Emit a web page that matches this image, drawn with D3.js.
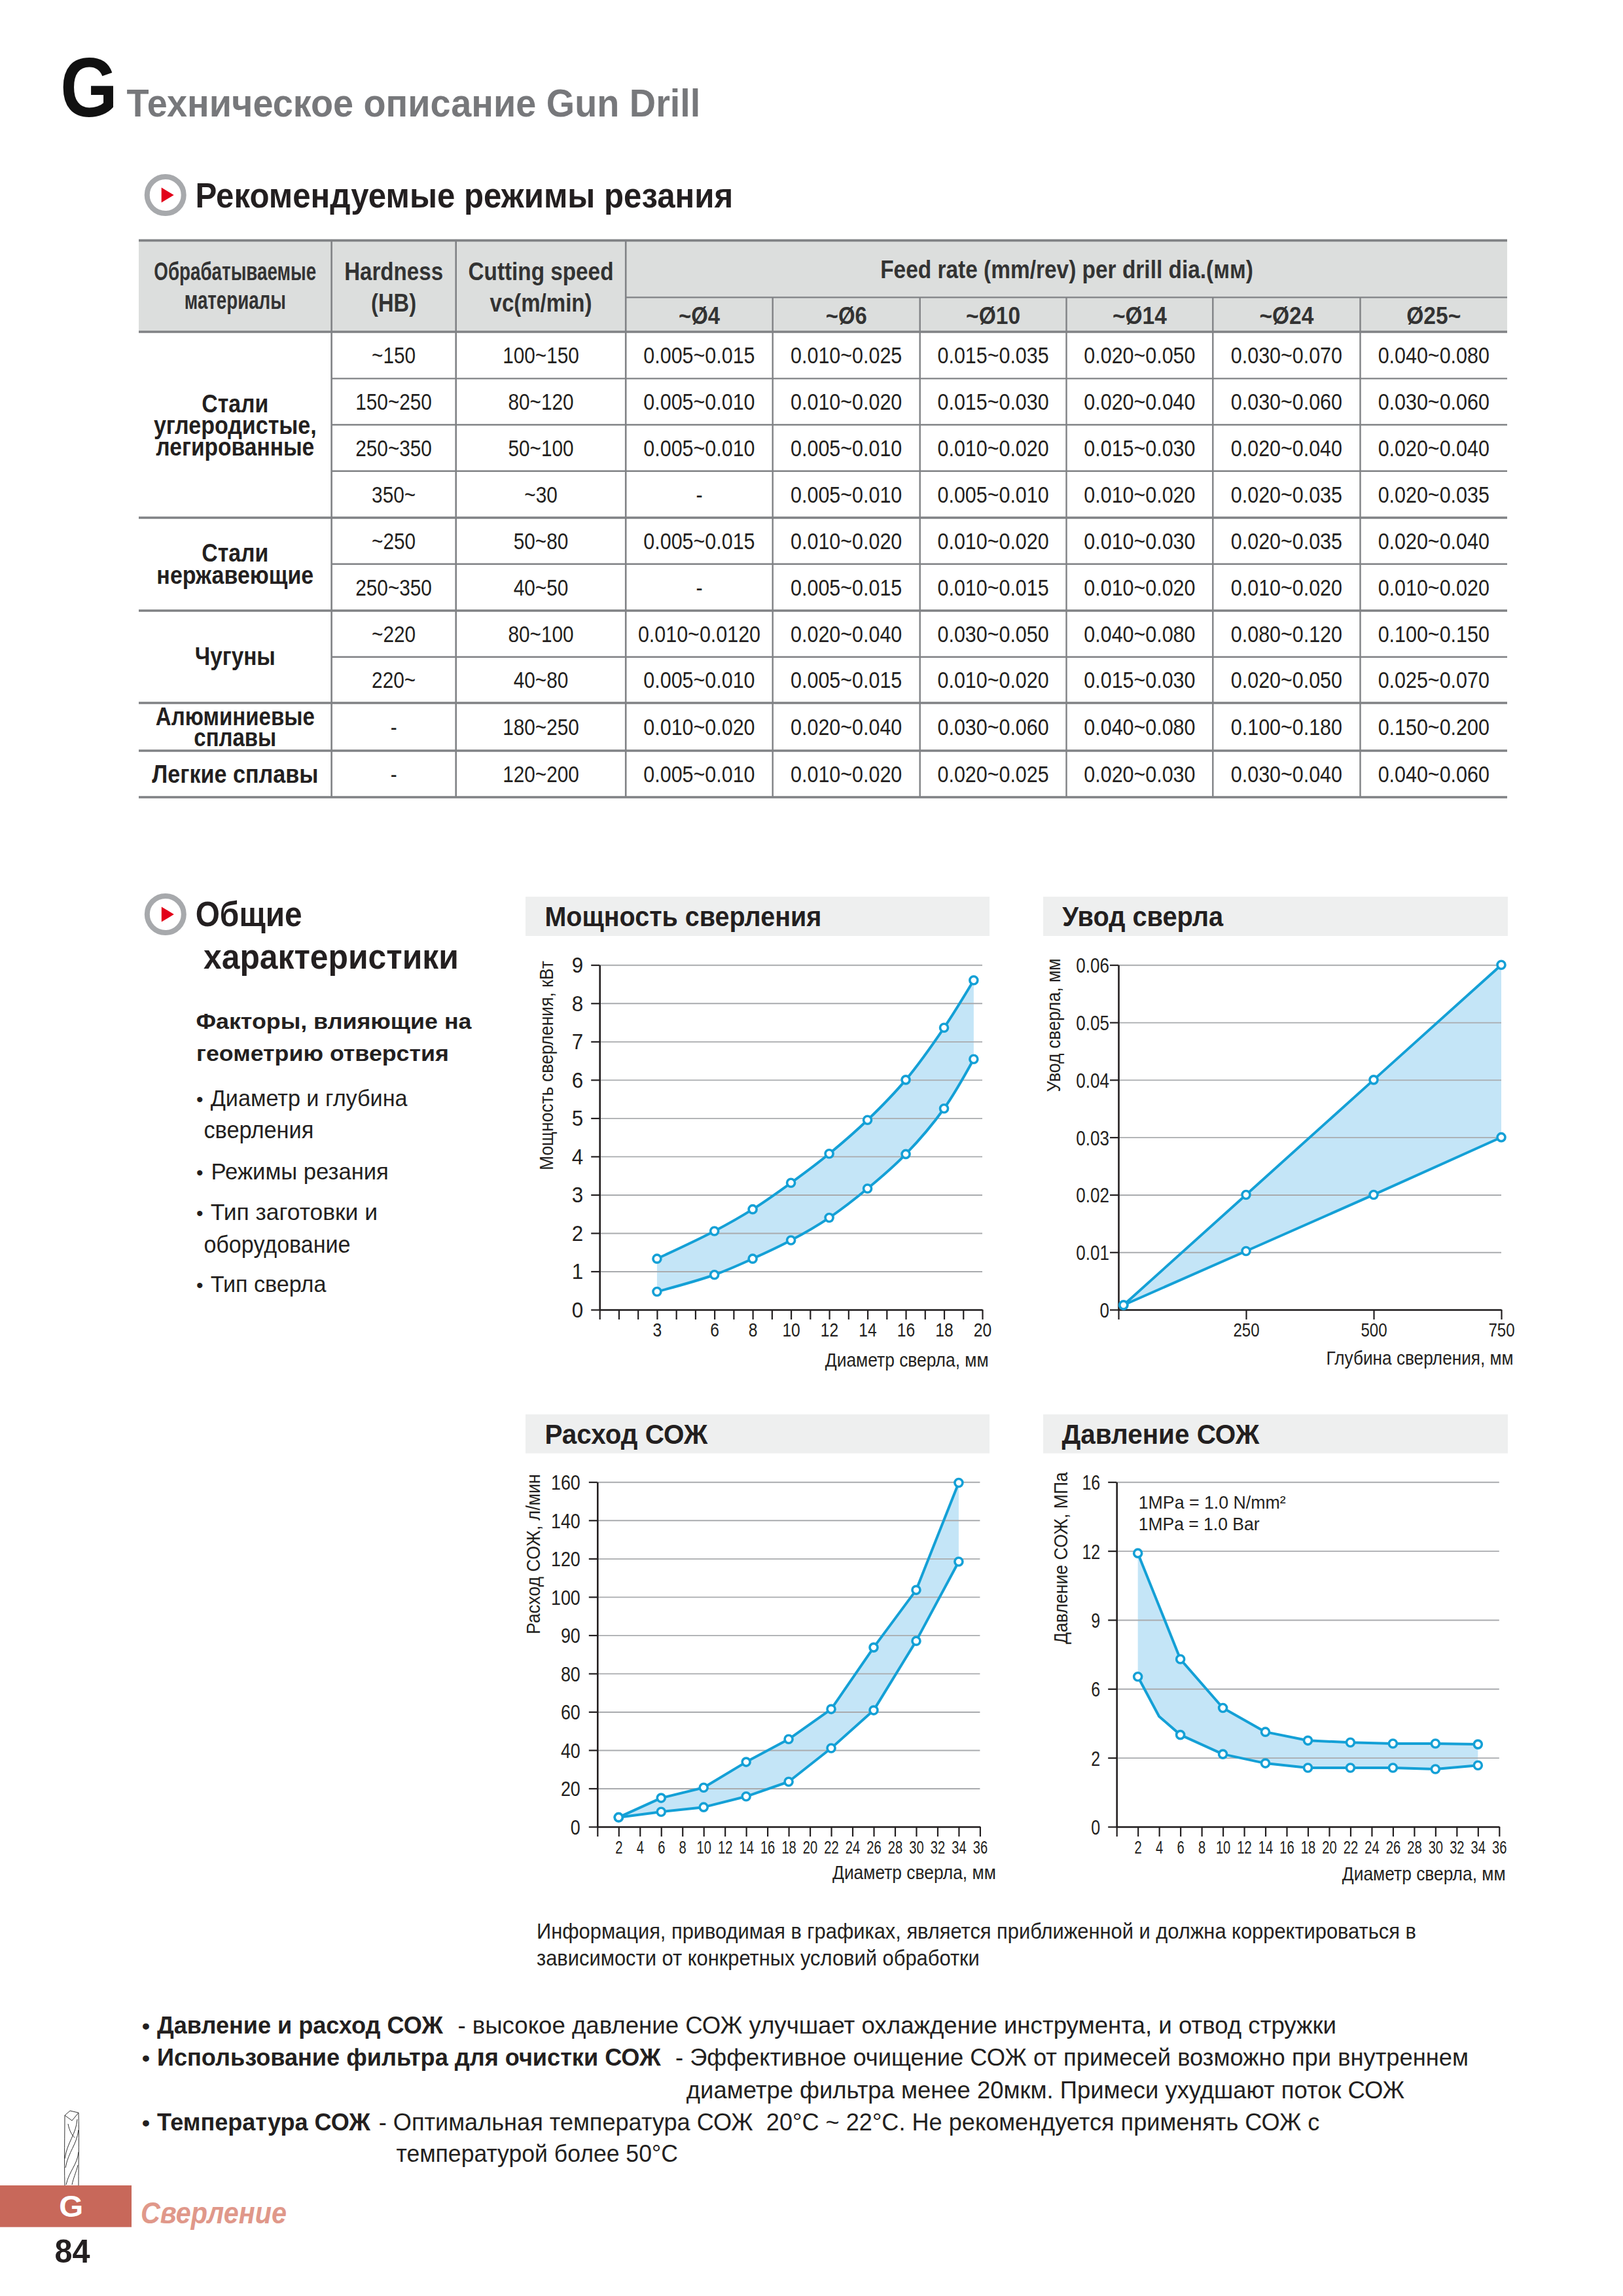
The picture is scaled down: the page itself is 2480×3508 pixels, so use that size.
<!DOCTYPE html>
<html lang="ru"><head><meta charset="utf-8">
<script src="https://cdn.jsdelivr.net/npm/d3@7/dist/d3.min.js"></script>
<style>html,body{margin:0;padding:0;background:#fff}svg{display:block}text{font-family:"Liberation Sans",Arial,sans-serif}</style>
</head><body><svg id="page" width="2480" height="3508"></svg>
<script>
// ---------- DATA ----------
const powerX      = [3, 6, 8, 10, 12, 14, 16, 18, 19.55];
const powerUpper  = [1.33, 2.05, 2.62, 3.31, 4.07, 4.95, 6.0, 7.36, 8.6];
const powerLower  = [0.47, 0.91, 1.33, 1.81, 2.4, 3.16, 4.06, 5.25, 6.54];
const powerYTicks = [0, 1, 2, 3, 4, 5, 6, 7, 8, 9];
const powerXTicks = [3, 6, 8, 10, 12, 14, 16, 18, 20];

const runoutX      = [10, 250, 500, 750];
const runoutUpper  = [0.0008, 0.02, 0.04, 0.06];
const runoutLower  = [0.0008, 0.0102, 0.02, 0.03];
const runoutYTicks = [0, 0.01, 0.02, 0.03, 0.04, 0.05, 0.06];
const runoutXTicks = [0, 250, 500, 750];

const flowX      = [2, 6, 10, 14, 18, 22, 26, 30, 34];
const flowUpper  = [4.9, 15, 20.4, 33.8, 45.7, 61.4, 86.8, 103.6, 159.6];
const flowLower  = [4.9, 7.8, 10.2, 15.8, 23.5, 41, 60.8, 88.5, 118.4];
const flowYTicks = [0, 20, 40, 60, 80, 90, 100, 120, 140, 160];

const pressureX      = [2, 4, 6, 10, 14, 18, 22, 26, 30, 34];
const pressureUpper  = [11.9, 9.6, 7.29, 4.89, 3.5, 3.0, 2.89, 2.82, 2.82, 2.78];
const pressureLower  = [6.53, 4.4, 3.33, 2.21, 1.84, 1.71, 1.71, 1.71, 1.67, 1.78];
const pressureUnmarkedX = [4];
const pressureYTicks = [0, 2, 6, 9, 12, 16];
const diameterTicks  = [2,4,6,8,10,12,14,16,18,20,22,24,26,28,30,32,34,36];

const feedDiameters = ["~Ø4","~Ø6","~Ø10","~Ø14","~Ø24","Ø25~"];
const hardnessVals  = ["~150","150~250","250~350","350~","~250","250~350","~220","220~","-","-"];
const speedVals     = ["100~150","80~120","50~100","~30","50~80","40~50","80~100","40~80","180~250","120~200"];
const feedRows = [
 ["0.005~0.015","0.010~0.025","0.015~0.035","0.020~0.050","0.030~0.070","0.040~0.080"],
 ["0.005~0.010","0.010~0.020","0.015~0.030","0.020~0.040","0.030~0.060","0.030~0.060"],
 ["0.005~0.010","0.005~0.010","0.010~0.020","0.015~0.030","0.020~0.040","0.020~0.040"],
 ["-","0.005~0.010","0.005~0.010","0.010~0.020","0.020~0.035","0.020~0.035"],
 ["0.005~0.015","0.010~0.020","0.010~0.020","0.010~0.030","0.020~0.035","0.020~0.040"],
 ["-","0.005~0.015","0.010~0.015","0.010~0.020","0.010~0.020","0.010~0.020"],
 ["0.010~0.0120","0.020~0.040","0.030~0.050","0.040~0.080","0.080~0.120","0.100~0.150"],
 ["0.005~0.010","0.005~0.015","0.010~0.020","0.015~0.030","0.020~0.050","0.025~0.070"],
 ["0.010~0.020","0.020~0.040","0.030~0.060","0.040~0.080","0.100~0.180","0.150~0.200"],
 ["0.005~0.010","0.010~0.020","0.020~0.025","0.020~0.030","0.030~0.040","0.040~0.060"]
];

// ---------- HELPERS ----------
const svg = d3.select("#page");
const INK = "#231f20", BLUE = "#14a0d6", AREA = "#c4e5f7", GRID = "#a9abae", RULE = "#808285";

function T(str, x, y, o = {}) {
  const el = svg.append("text").text(str)
    .attr("font-size", o.size || 32)
    .attr("font-weight", o.bold ? 700 : 400)
    .attr("font-style", o.italic ? "italic" : "normal")
    .attr("text-anchor", o.anchor || "start")
    .attr("fill", o.fill || INK);
  let sx = o.sx || 1;
  if (o.w) sx = o.w / el.node().getComputedTextLength();
  el.attr("transform", `translate(${x},${y}) rotate(${o.rot || 0}) scale(${sx},1)`);
  return el;
}
function line(x1, y1, x2, y2, w, c) {
  svg.append("line").attr("x1", x1).attr("y1", y1).attr("x2", x2).attr("y2", y2)
    .attr("stroke", c || RULE).attr("stroke-width", w);
}
function sectionIcon(cx, cy) {
  svg.append("circle").attr("cx", cx).attr("cy", cy).attr("r", 28).attr("fill", "#fff")
    .attr("stroke", "#a7a9ac").attr("stroke-width", 8);
  svg.append("path").attr("d", `M${cx-6},${cy-11.5}L${cx+13},${cy}L${cx-6},${cy+11.5}Z`).attr("fill", "#e2001a");
}

// ---------- PAGE HEADER ----------
T("G", 92, 178, {size:128, bold:true, w:88, fill:"#111"});
T("Техническое описание Gun Drill", 193.5, 177.5, {size:60, bold:true, w:877, fill:"#77787b"});
sectionIcon(252.7, 298);
T("Рекомендуемые режимы резания", 298.5, 317, {size:53, bold:true, w:822});

// ---------- TABLE ----------
const colX = [212, 506.6, 696.7, 956.2, 1180.7, 1405.7, 1629.5, 1853.3, 2078.5, 2303];
const rowY = [507, 578.4, 649, 719.8, 791, 861.8, 933, 1003.8, 1074, 1147, 1218];
const majorRows = [0, 4, 6, 8, 9, 10];
svg.append("rect").attr("x", colX[0]).attr("y", 367.4).attr("width", colX[9]-colX[0]).attr("height", rowY[0]-367.4).attr("fill", "#dcdedd");
rowY.forEach((y, i) => majorRows.includes(i) ? line(colX[0], y, colX[9], y, 3.6) : line(colX[1], y, colX[9], y, 2.4));
line(colX[0], 367.4, colX[9], 367.4, 3.6);
line(colX[3], 454.4, colX[9], 454.4, 2.4);
[1,2,3].forEach(i => line(colX[i], 367.4, colX[i], 1218, 2.6));
[4,5,6,7,8].forEach(i => line(colX[i], 454.4, colX[i], 1218, 2.4));

const c1 = 359.3, c2 = 601.6, c3 = 826.5;
T("Обрабатываемые", c1, 428, {size:38, bold:true, w:248, anchor:"middle", fill:"#333"});
T("материалы", c1, 472, {size:38, bold:true, w:155, anchor:"middle", fill:"#333"});
T("Hardness", c2, 428, {size:39, bold:true, w:151, anchor:"middle", fill:"#333"});
T("(HB)", c2, 476, {size:39, bold:true, w:69, anchor:"middle", fill:"#333"});
T("Cutting speed", c3, 428, {size:39, bold:true, w:222, anchor:"middle", fill:"#333"});
T("vc(m/min)", c3, 476, {size:39, bold:true, w:156, anchor:"middle", fill:"#333"});
T("Feed rate (mm/rev) per drill dia.(мм)", 1630, 424.6, {size:38, bold:true, w:570, anchor:"middle", fill:"#333"});
feedDiameters.forEach((d, i) => T(d, (colX[3+i]+colX[4+i])/2, 495, {size:37, bold:true, w:i<2?63:83, anchor:"middle", fill:"#333"}));

[["Стали",629.5,102],["углеродистые,",663,249],["легированные",695.7,242],["Стали",858.4,102],["нержавеющие",892,240],
 ["Чугуны",1016,123],["Алюминиевые",1107.6,243],["сплавы",1140,126],["Легкие сплавы",1195.7,254]]
 .forEach(([s,y,w]) => T(s, c1, y, {size:38, bold:true, w, anchor:"middle"}));

feedRows.forEach((row, r) => {
  const base = (rowY[r]+rowY[r+1])/2 + 12.5;
  T(hardnessVals[r], c2, base, {size:35, sx:.85, anchor:"middle"});
  T(speedVals[r], c3, base, {size:35, sx:.85, anchor:"middle"});
  row.forEach((v, c) => T(v, (colX[3+c]+colX[4+c])/2, base, {size:35, sx:.87, anchor:"middle"}));
});

// ---------- LEFT COLUMN ----------
sectionIcon(252.8, 1397);
T("Общие", 298.7, 1415, {size:54, bold:true, w:163});
T("характеристики", 311, 1479.7, {size:54, bold:true, w:390});
T("Факторы, влияющие на", 299.5, 1571.5, {size:34, bold:true, w:421});
T("геометрию отверстия", 300, 1621, {size:34, bold:true, w:386});
[["Диаметр и глубина",321.7,1690,301,true],["сверления",311.4,1739,168,false],["Режимы резания",322.5,1802,271.5,true],
 ["Тип заготовки и",321.7,1863.6,255.3,true],["оборудование",311.4,1913.7,224.2,false],["Тип сверла",321.7,1974,176.8,true]]
 .forEach(([s,x,y,w,b]) => { if (b) T("•", 300, y, {size:30}); T(s, x, y, {size:36, w}); });

// ---------- CHARTS ----------
function chart(cfg) {
  const {left, right, top, bottom, xDomain, yDomain, xs, upper, lower} = cfg;
  svg.append("rect").attr("x", cfg.hx0).attr("y", cfg.hy0).attr("width", cfg.hx1-cfg.hx0).attr("height", cfg.hy1-cfg.hy0).attr("fill", "#eeefef");
  T(cfg.title, cfg.titleX, cfg.titleY, {size:42, bold:true, w:cfg.titleW});

  const x = d3.scaleLinear().domain(xDomain).range([left, right]);
  const yRange = yDomain.map((_, i) => bottom + (top-bottom)*i/(yDomain.length-1));
  const y = d3.scaleLinear().domain(yDomain).range(yRange);
  const curve = cfg.curve || d3.curveLinear;
  const rows = xs.map((v, i) => ({x:v, hi:upper[i], lo:lower[i]}));

  svg.append("path").datum(rows).attr("fill", AREA)
    .attr("d", d3.area().x(d => x(d.x)).y0(d => y(d.lo)).y1(d => y(d.hi)).curve(curve));

  const grid = svg.append("g").attr("transform", `translate(${left},0)`)
    .call(d3.axisRight(y).tickValues(yDomain).tickSize(right-left).tickFormat(""));
  grid.select(".domain").remove();
  grid.selectAll("line").attr("stroke", GRID).attr("stroke-width", 1.9);

  const ya = svg.append("g").attr("transform", `translate(${left},0)`)
    .call(d3.axisLeft(y).tickValues(cfg.yTicks).tickSize(13).tickSizeOuter(0).tickFormat(cfg.yFmt || (d => d)));
  ya.select(".domain").attr("stroke", INK).attr("stroke-width", 2.6);
  ya.selectAll("line").attr("stroke", INK).attr("stroke-width", 2.2);
  ya.selectAll("text").attr("font-size", cfg.ySize || 32).attr("font-family", "Liberation Sans").attr("fill", INK)
    .attr("dy", null).attr("y", 11.5).attr("x", -cfg.yPad/cfg.ySx).attr("transform", `scale(${cfg.ySx},1)`);

  const xa = svg.append("g").attr("transform", `translate(0,${bottom})`)
    .call(d3.axisBottom(x).tickValues(cfg.xTickMarks).tickSize(15).tickSizeOuter(0)
      .tickFormat(d => cfg.xTicks.includes(d) ? d : ""));
  xa.select(".domain").attr("stroke", INK).attr("stroke-width", 2.6);
  xa.selectAll("line").attr("stroke", INK).attr("stroke-width", 2.2);
  xa.selectAll("text").attr("font-size", cfg.xSize || 29).attr("font-family", "Liberation Sans").attr("fill", INK)
    .attr("dy", null).attr("y", cfg.xLabelDy).attr("transform", `scale(${cfg.xSx},1)`);

  ["hi","lo"].forEach(k => {
    svg.append("path").datum(rows).attr("fill", "none").attr("stroke", BLUE).attr("stroke-width", 4).attr("stroke-linejoin", "round")
      .attr("d", d3.line().x(d => x(d.x)).y(d => y(d[k])).curve(curve));
    svg.append("g").selectAll("circle").data(rows.filter(d => !(cfg.unmarked || []).includes(d.x))).join("circle")
      .attr("cx", d => x(d.x)).attr("cy", d => y(d[k])).attr("r", 6)
      .attr("fill", "#fff").attr("stroke", BLUE).attr("stroke-width", 3.6);
  });

  T(cfg.yLabel, cfg.yLabelX, cfg.yLabelY, {size:30, w:cfg.yLabelW, rot:-90});
  T(cfg.xLabel, cfg.xLabelX, cfg.xLabelBase, {size:29, w:cfg.xLabelW});
}

chart({title:"Мощность сверления", titleX:832.4, titleY:1414.6, titleW:423, hx0:803, hx1:1512, hy0:1370, hy1:1430,
  left:916.2, right:1501, top:1474.3, bottom:2001, xDomain:[0,20], yDomain:powerYTicks, xs:powerX, upper:powerUpper, lower:powerLower,
  curve:d3.curveCatmullRom, yTicks:powerYTicks, yPad:25, ySx:.95, ySize:33,
  xTicks:powerXTicks, xTickMarks:d3.range(0,21), xSx:.85, xSize:29, xLabelDy:41.5,
  yLabel:"Мощность сверления, кВт", yLabelX:845, yLabelY:1788, yLabelW:320,
  xLabel:"Диаметр сверла, мм", xLabelX:1260.8, xLabelBase:2087.8, xLabelW:250});

chart({title:"Увод сверла", titleX:1623.3, titleY:1414.6, titleW:246, hx0:1594, hx1:2304, hy0:1370, hy1:1430,
  left:1709, right:2294, top:1474.3, bottom:2001, xDomain:[0,750], yDomain:runoutYTicks, xs:runoutX, upper:runoutUpper, lower:runoutLower,
  yTicks:runoutYTicks, yFmt:d => d === 0 ? "0" : d3.format(".2f")(d), yPad:14, ySx:.84, ySize:31,
  xTicks:[250,500,750], xTickMarks:runoutXTicks, xSx:.83, xSize:29, xLabelDy:41.5,
  yLabel:"Увод сверла, мм", yLabelX:1620, yLabelY:1668.4, yLabelW:204,
  xLabel:"Глубина сверления, мм", xLabelX:2026.6, xLabelBase:2084.8, xLabelW:286});

chart({title:"Расход СОЖ", titleX:832.4, titleY:2205.6, titleW:249, hx0:803, hx1:1512, hy0:2161, hy1:2220.5,
  left:912.8, right:1497.4, top:2264.3, bottom:2791, xDomain:[0,36], yDomain:flowYTicks, xs:flowX, upper:flowUpper, lower:flowLower,
  yTicks:flowYTicks, yPad:26, ySx:.84, ySize:32,
  xTicks:diameterTicks, xTickMarks:[0].concat(diameterTicks), xSx:.72, xSize:28, xLabelDy:41,
  yLabel:"Расход СОЖ, л/мин", yLabelX:825, yLabelY:2497, yLabelW:245,
  xLabel:"Диаметр сверла, мм", xLabelX:1272, xLabelBase:2871, xLabelW:250});

chart({title:"Давление СОЖ", titleX:1622.4, titleY:2205.6, titleW:302, hx0:1594, hx1:2304, hy0:2161, hy1:2220.5,
  left:1706.2, right:2290.8, top:2264.3, bottom:2791, xDomain:[0,36], yDomain:pressureYTicks, xs:pressureX, upper:pressureUpper, lower:pressureLower,
  unmarked:pressureUnmarkedX, yTicks:pressureYTicks, yPad:25, ySx:.78, ySize:32,
  xTicks:diameterTicks, xTickMarks:[0].concat(diameterTicks), xSx:.72, xSize:28, xLabelDy:41,
  yLabel:"Давление СОЖ, МПа", yLabelX:1630.6, yLabelY:2512, yLabelW:263,
  xLabel:"Диаметр сверла, мм", xLabelX:2050.8, xLabelBase:2872.8, xLabelW:250});

T("1MPa = 1.0 N/mm²", 1739.7, 2305, {size:28, w:225});
T("1MPa = 1.0 Bar", 1739.7, 2338, {size:28, w:185});

// ---------- NOTES ----------
T("Информация, приводимая в графиках, является приближенной и должна корректироваться в", 820, 2961.7, {size:33, w:1344});
T("зависимости от конкретных условий обработки", 820, 3003, {size:33, w:677});
[3106.7, 3156, 3255.3].forEach(y => T("•", 217, y, {size:34, bold:true}));
T("Давление и расход СОЖ", 240, 3106.7, {size:37, bold:true, w:437});
T("- высокое давление СОЖ улучшает охлаждение инструмента, и отвод стружки", 699.5, 3106.7, {size:37, w:1343});
T("Использование фильтра для очистки СОЖ", 240, 3156, {size:37, bold:true, w:770});
T("- Эффективное очищение СОЖ от примесей возможно при внутреннем", 1032, 3156, {size:37, w:1212.7});
T("диаметре фильтра менее 20мкм. Примеси ухудшают поток СОЖ", 1048.8, 3206, {size:37, w:1097.7});
T("Температура СОЖ", 240, 3255.3, {size:37, bold:true, w:326});
T("- Оптимальная температура СОЖ\u00a0\u00a020°C ~ 22°C. Не рекомендуется применять СОЖ с", 578.8, 3255.3, {size:37, w:1438});
T("температурой более 50°C", 605.5, 3303.3, {size:37, w:430.5});

// ---------- FOOTER ----------
svg.append("rect").attr("x", 0).attr("y", 3339).attr("width", 201).attr("height", 63.7).attr("fill", "#c8685a");
T("G", 108.8, 3387, {size:47, bold:true, w:37, anchor:"middle", fill:"#fff"});
T("Сверление", 215, 3396.7, {size:46, bold:true, italic:true, w:223, fill:"#e0988a"});
T("84", 110.5, 3456.7, {size:50, bold:true, w:54, anchor:"middle"});
const drill = svg.append("g").attr("fill", "none").attr("stroke", "#333").attr("stroke-width", 1);
drill.append("path").attr("d", "M99,3339C98,3300 99,3260 99,3232L107,3225L120,3228C121,3260 120,3300 120,3339").attr("fill", "#fff");
["M99,3232L110,3240L120,3228",
 "M118,3238C116,3262 103,3272 99,3298","M120,3254C117,3278 105,3286 100,3312",
 "M120,3288C118,3308 106,3316 101,3338","M119,3308C116,3320 112,3328 110,3338",
 "M104,3245C106,3256 110,3262 114,3266"].forEach(d => drill.append("path").attr("d", d));
</script></body></html>
